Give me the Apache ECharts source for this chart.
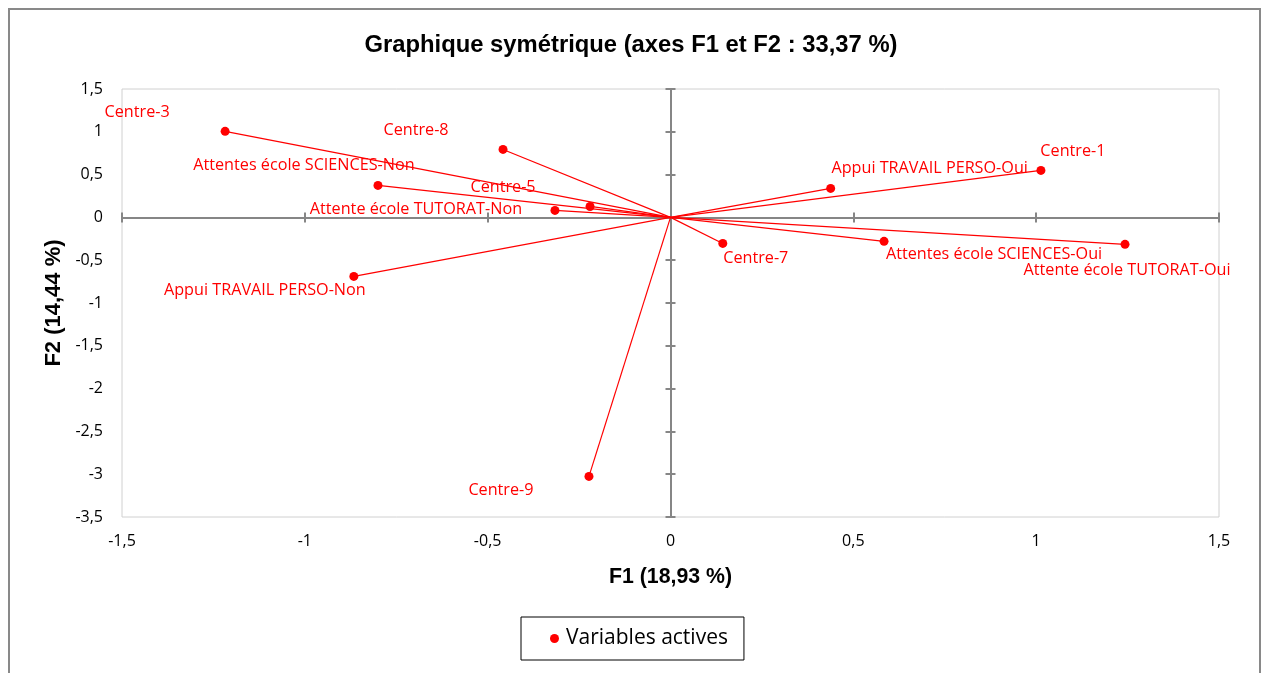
<!DOCTYPE html>
<html>
<head>
<meta charset="utf-8">
<script src="https://cdn.jsdelivr.net/npm/echarts@6/dist/echarts.min.js"></script>
<style>
html,body{margin:0;padding:0;background:#fff;}
#frame{position:absolute;left:8px;top:8px;width:1253px;height:700px;border:2px solid #898989;box-sizing:border-box;pointer-events:none;z-index:5;}
#chart{position:absolute;left:0;top:0;width:1262px;height:673px;}
</style>
</head>
<body>
<div id="chart"></div>
<div id="frame"></div>
<script>
var titleText = 'Graphique symétrique (axes F1 et F2 : 33,37 %)';
var xAxisName = 'F1 (18,93 %)';
var yAxisName = 'F2 (14,44 %)';
var seriesName = 'Variables actives';

var labels = ['Centre-3','Centre-8','Attentes école SCIENCES-Non','Centre-5','Attente école TUTORAT-Non','Appui TRAVAIL PERSO-Non','Centre-9','Centre-7','Appui TRAVAIL PERSO-Oui','Centre-1','Attentes école SCIENCES-Oui','Attente école TUTORAT-Oui'];
var f1 = [-1.218,-0.458,-0.800,-0.220,-0.316,-0.866,-0.223,0.143,0.438,1.013,0.584,1.243];
var f2 = [1.005,0.794,0.374,0.128,0.082,-0.689,-3.026,-0.304,0.339,0.549,-0.280,-0.315];

var xMin=-1.5, xMax=1.5, xStep=0.5;
var yMin=-3.5, yMax=1.5, yStep=0.5;

// label offsets (styling)
var labelOffsets = [[-88,-19],[-87,-19],[-74,-20],[-87,-19],[-139,-1],[-89,14],[-88,14],[33,15],[99,-20],[32,-19],[110,13],[2,26]];

var RED = '#ff0000';
var labelFont = '"Open Sans", Lato, sans-serif';
var boldFont = '"Liberation Sans", Arial, sans-serif';
function fmt(v){ return String(+v.toFixed(2)).replace('.', ','); }

var pts = labels.map(function(n,i){
  return {name:n, value:[f1[i],f2[i]], label:{offset:labelOffsets[i]}};
});
var segs = labels.map(function(n,i){ return {coords:[[0,0],[f1[i],f2[i]]]}; });

var grid = {left:122,right:43,top:89,bottom:156,show:true,borderColor:'#d0d0d0',borderWidth:1,backgroundColor:'transparent'};
function zeroX(gi, inside){
  return {type:'value',gridIndex:gi,min:xMin,max:xMax,interval:xStep,position:'top',
    axisLine:{show:!inside,onZero:true,lineStyle:{color:'#868686',width:2}},
    axisTick:{show:true,inside:inside,length:5,lineStyle:{color:'#868686',width:2}},
    axisLabel:{show:false},splitLine:{show:false}};
}
function zeroY(gi, inside){
  return {type:'value',gridIndex:gi,min:yMin,max:yMax,interval:yStep,position:'right',
    axisLine:{show:!inside,onZero:true,lineStyle:{color:'#868686',width:2}},
    axisTick:{show:true,inside:inside,length:5,lineStyle:{color:'#868686',width:2}},
    axisLabel:{show:false},splitLine:{show:false}};
}

var chart = echarts.init(document.getElementById('chart'));
chart.setOption({
  animation:false,
  backgroundColor:'#fff',
  title:{text:titleText,left:'center',top:28,textStyle:{fontFamily:boldFont,fontWeight:'bold',fontSize:23.8,color:'#000'}},
  legend:{data:[{name:seriesName,icon:'circle'}],left:521,top:617,padding:[11,16,11,29],itemWidth:13,itemHeight:9,itemGap:10,
    borderColor:'#000',borderWidth:1,textStyle:{fontFamily:labelFont,fontSize:21,color:'#000'}},
  grid:[grid, Object.assign({},grid,{show:false})],
  xAxis:[
    {type:'value',gridIndex:0,min:xMin,max:xMax,interval:xStep,position:'bottom',
     axisLine:{show:false,onZero:false},axisTick:{show:false},splitLine:{show:false},
     axisLabel:{formatter:fmt,color:'#000',fontFamily:labelFont,fontSize:16,margin:16},
     name:xAxisName,nameLocation:'middle',nameGap:50,nameTextStyle:{fontFamily:boldFont,fontWeight:'bold',fontSize:21.3,color:'#000'}},
    zeroX(0,false),
    zeroX(1,true)
  ],
  yAxis:[
    {type:'value',gridIndex:0,min:yMin,max:yMax,interval:yStep,position:'left',
     axisLine:{show:false,onZero:false},axisTick:{show:false},splitLine:{show:false},
     axisLabel:{formatter:fmt,color:'#000',fontFamily:labelFont,fontSize:16,margin:19},
     name:yAxisName,nameLocation:'middle',nameGap:50,nameTextStyle:{fontFamily:boldFont,fontWeight:'bold',fontSize:22,color:'#000'}},
    zeroY(0,false),
    zeroY(1,true)
  ],
  series:[
    {type:'lines',coordinateSystem:'cartesian2d',xAxisIndex:0,yAxisIndex:0,data:segs,silent:true,
     lineStyle:{color:RED,width:1.2,opacity:1},z:3},
    {name:seriesName,type:'scatter',xAxisIndex:0,yAxisIndex:0,data:pts,symbol:'circle',symbolSize:9,
     itemStyle:{color:RED,opacity:1},z:4,
     label:{show:true,position:'inside',formatter:'{b}',color:RED,fontFamily:labelFont,fontSize:16.2,align:'center',verticalAlign:'middle'}}
  ]
});
</script>
</body>
</html>
